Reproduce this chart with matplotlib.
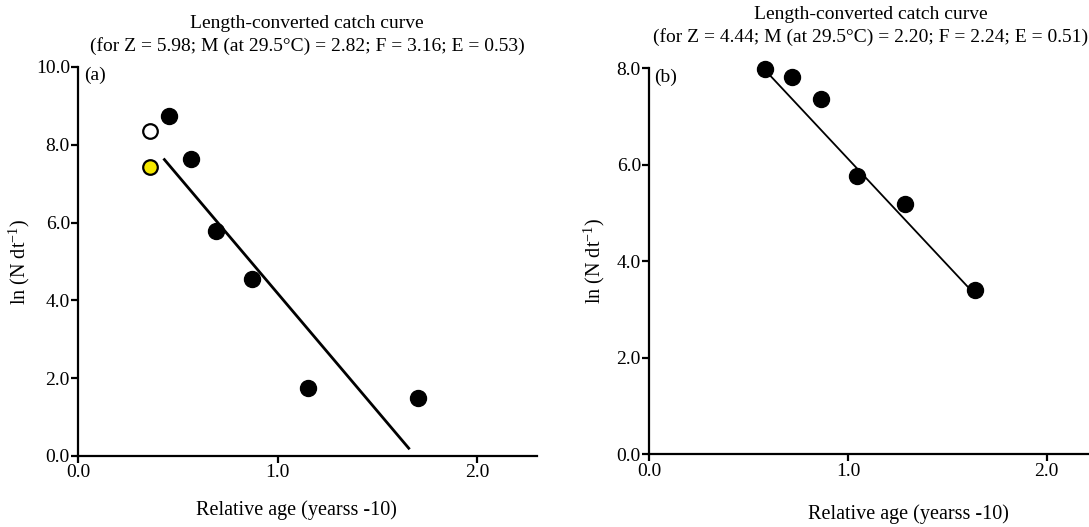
import matplotlib
matplotlib.use("Agg")
import matplotlib.pyplot as plt

plt.rcParams['font.family'] = ['Liberation Serif', 'DejaVu Serif']
plt.rcParams['mathtext.fontset'] = 'custom'
plt.rcParams['mathtext.rm'] = 'Liberation Serif'
plt.rcParams['mathtext.it'] = 'Liberation Serif:italic'

# panel (a) - points used in the regression
age_a = [0.455, 0.563, 0.690, 0.874, 1.152, 1.705]
lnN_a = [8.74, 7.64, 5.79, 4.54, 1.74, 1.50]
# points left out of the fit
open_age_a, open_lnN_a = [0.361], [8.36]
yel_age_a, yel_lnN_a = [0.361], [7.44]
fit_age_a = [0.432, 1.658]
fit_lnN_a = [7.62, 0.20]
title_a = "Length-converted catch curve\n(for Z = 5.98; M (at 29.5\u00b0C) = 2.82; F = 3.16; E = 0.53)"

# panel (b)
age_b = [0.584, 0.716, 0.862, 1.044, 1.287, 1.641]
lnN_b = [7.98, 7.81, 7.37, 5.77, 5.18, 3.40]
fit_age_b = [0.59, 1.61]
fit_lnN_b = [7.93, 3.44]
title_b = "Length-converted catch curve\n(for Z = 4.44; M (at 29.5\u00b0C) = 2.20; F = 2.24; E = 0.51)"

xticks = [0.0, 1.0, 2.0]
yticks_a = [0.0, 2.0, 4.0, 6.0, 8.0, 10.0]
yticks_b = [0.0, 2.0, 4.0, 6.0, 8.0]

xlab = "Relative age (yearss -10)"
ylab = r"ln (N dt$^{-1}$)"

W, H = 1089, 527
fig = plt.figure(figsize=(W / 100, H / 100), dpi=100)


def px_axes(x0, x1, ytop, ybot):
    return fig.add_axes([x0 / W, (H - ybot) / H, (x1 - x0) / W, (ybot - ytop) / H])


def style(ax, yticks):
    for s in ['top', 'right']:
        ax.spines[s].set_visible(False)
    for s in ['left', 'bottom']:
        ax.spines[s].set_linewidth(1.6)
    ax.tick_params(direction='out', length=5, width=1.6, labelsize=14, pad=1)
    ax.set_xticks(xticks)
    ax.set_xticklabels(['%.1f' % v for v in xticks])
    ax.set_yticks(yticks)
    ax.set_yticklabels(['%.1f' % v for v in yticks])


ax = px_axes(78.3, 536.7, 67, 456)
ax.set_xlim(0, 2.30)
ax.set_ylim(0, 10)
style(ax, yticks_a)
ax.plot(fit_age_a, fit_lnN_a, color='black', lw=2.0, zorder=2)
ax.plot(age_a, lnN_a, 'o', color='black', ms=11.5, zorder=3, clip_on=False)
ax.plot(open_age_a, open_lnN_a, 'o', mfc='white', mec='black', mew=1.6, ms=10.5, zorder=3)
ax.plot(yel_age_a, yel_lnN_a, 'o', mfc='#f5e800', mec='black', mew=1.6, ms=10.5, zorder=3)
ax.text(0.012, 1.0, "(a)", transform=ax.transAxes, fontsize=14, va='top', ha='left')
ax.set_ylabel(ylab, fontsize=14.5, labelpad=3)
fig.text(296 / W, 1 - 510 / H, xlab, fontsize=14.5, ha='center', va='center')
fig.text(307 / W, 1 - 35 / H, title_a, fontsize=14, ha='center', va='center', linespacing=1.3)

ax2 = px_axes(649.3, 1089, 68.3, 454.3)
ax2.set_xlim(0, 2.213)
ax2.set_ylim(0, 8)
style(ax2, yticks_b)
ax2.plot(fit_age_b, fit_lnN_b, color='black', lw=1.3, zorder=2)
ax2.plot(age_b, lnN_b, 'o', color='black', ms=11.5, zorder=3, clip_on=False)
ax2.text(0.012, 1.0, "(b)", transform=ax2.transAxes, fontsize=14, va='top', ha='left')
ax2.set_ylabel(ylab, fontsize=14.5, labelpad=7)
fig.text(908 / W, 1 - 514 / H, xlab, fontsize=14.5, ha='center', va='center')
fig.text(871 / W, 1 - 26 / H, title_b, fontsize=14, ha='center', va='center', linespacing=1.3)

fig.savefig("out.png", dpi=100)
